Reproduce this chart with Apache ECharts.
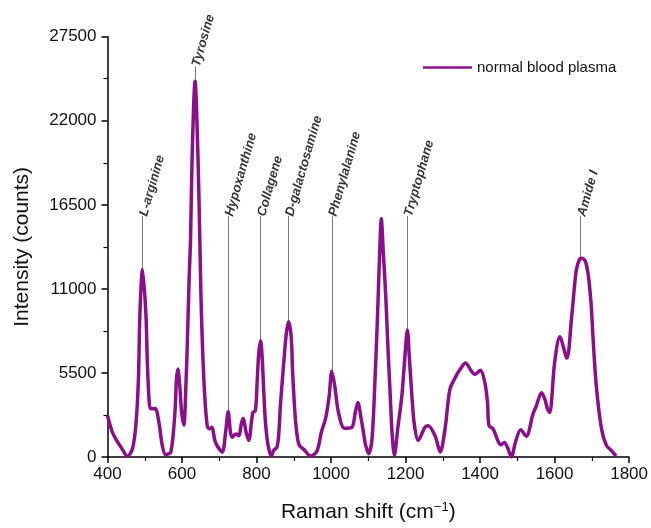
<!DOCTYPE html>
<html>
<head>
<meta charset="utf-8">
<script src="https://cdn.jsdelivr.net/npm/echarts@6/dist/echarts.min.js"></script>
<style>
html,body{margin:0;padding:0;background:#fff;}
#chart{width:651px;height:528px;}
</style>
</head>
<body>
<div id="chart"></div>
<script>
// Raman shift (cm^-1)
const ramanShift = [400,413,422,436,454,467,476,483,487,494,503,507,512,516,528,538,547,556,570,581,585,589,594,599,605,611,614,619,623,627,635,643,648,651,655,661,668,674,680,688,695,708,717,724,730,735,744,752,760,764,772,779,790,797,802,806,811,815,820,824,831,840,846,855,860,864,873,880,886,893,897,903,909,915,927,945,962,974,986,995,1002,1010,1020,1036,1056,1065,1072,1081,1087,1093,1101,1110,1118,1125,1130,1135,1140,1147,1153,1159,1164,1170,1179,1190,1197,1205,1210,1217,1224,1234,1252,1261,1279,1293,1306,1319,1333,1346,1361,1377,1386,1401,1413,1420,1424,1435,1449,1456,1465,1474,1484,1495,1509,1524,1542,1551,1565,1574,1581,1587,1600,1614,1633,1645,1658,1667,1673,1682,1690,1698,1703,1712,1726,1739,1752,1765];
// Intensity (counts)
const intensity = [2700,1620,1190,650,50,540,2050,5070,9380,12290,9380,6150,3560,3150,3170,2265,760,155,325,2910,5070,5760,4640,2910,2100,5070,7230,11560,14340,19520,24590,19500,14000,10400,7200,3990,2000,1850,1950,1100,700,325,1620,2960,1620,1290,1510,1400,2265,2520,1620,1080,2910,3020,5070,6790,7600,6580,3990,2265,760,65,430,650,1620,3345,6150,8090,8850,7870,5500,2910,1400,760,500,65,370,1620,2590,3990,5610,4640,2910,1880,1940,2910,3560,2480,1620,760,220,1190,5070,9380,13000,15590,13500,10460,7000,3990,1500,110,1840,3990,6150,8310,6580,3990,2050,1080,1940,2050,1400,325,1840,4425,5175,5720,6150,5610,5400,5675,4850,3560,2050,1840,1000,800,950,600,0,970,1790,1360,2810,3345,4205,3780,3130,2910,6150,7870,6470,8950,12190,12940,13000,12840,11970,10030,7870,4640,1840,760,430,65];

// Peak annotations
const annLabels = ['L-arginine','Tyrosine','Hypoxanthine','Collagene','D-galactosamine','Phenylalanine','Tryptophane','Amide I'];
const annShift  = [494, 635, 724, 811, 886, 1002, 1205, 1670];
const annPeak   = [12290, 24590, 2960, 7600, 8850, 5610, 8310, 13000];
const annTop    = [15770, 25560, 15770, 15770, 15770, 15770, 15770, 15770];

const xTicks = {min: 400, max: 1800, interval: 200};
const yTicks = {min: 0, max: 27500, interval: 5500};

const FONT = 'Liberation Sans, Arial, sans-serif';
const chart = echarts.init(document.getElementById('chart'), null, {renderer: 'canvas'});

const lineData = ramanShift.map((x, i) => [x, intensity[i]]);
const markLines = annShift.map((x, i) => [{coord: [x, annPeak[i]]}, {coord: [x, annTop[i]]}]);
const labelData = annShift.map((x, i) => [x, annTop[i], annLabels[i]]);

chart.setOption({
  animation: false,
  backgroundColor: '#fff',
  grid: {left: 107.5, right: 19.5, top: 36.7, bottom: 66.3, containLabel: false},
  legend: {
    data: ['normal blood plasma'],
    left: 418, top: 55,
    itemWidth: 49, itemHeight: 14, itemGap: 5,
    textStyle: {fontFamily: FONT, fontSize: 15, color: '#111'},
    icon: 'path://M0,6 L49,6 L49,8.5 L0,8.5 Z'
  },
  xAxis: {
    type: 'value', min: xTicks.min, max: xTicks.max, interval: xTicks.interval,
    name: 'Raman shift (cm{sup|\u22121})',
    nameLocation: 'middle', nameGap: 44,
    nameTextStyle: {fontFamily: FONT, fontSize: 21, color: '#111',
      rich: {sup: {fontFamily: FONT, fontSize: 13, color: '#111', verticalAlign: 'top', padding: [0,0,10,0]}}},
    axisLine: {show: true, lineStyle: {color: '#000', width: 1.5}},
    axisTick: {show: true, length: 6, lineStyle: {color: '#000', width: 1.5}},
    minorTick: {show: true, splitNumber: 2, length: 4, lineStyle: {color: '#000', width: 1.2}},
    axisLabel: {fontFamily: FONT, fontSize: 17, color: '#111', margin: 9, formatter: v => String(v)},
    splitLine: {show: false}
  },
  yAxis: {
    type: 'value', min: yTicks.min, max: yTicks.max, interval: yTicks.interval,
    name: 'Intensity (counts)',
    nameLocation: 'middle', nameGap: 75, nameRotate: 90,
    nameTextStyle: {fontFamily: FONT, fontSize: 21, color: '#111'},
    axisLine: {show: true, lineStyle: {color: '#000', width: 1.5}},
    axisTick: {show: true, length: 6, lineStyle: {color: '#000', width: 1.5}},
    minorTick: {show: true, splitNumber: 2, length: 4, lineStyle: {color: '#000', width: 1.2}},
    axisLabel: {fontFamily: FONT, fontSize: 17, color: '#111', margin: 11, formatter: v => String(v)},
    splitLine: {show: false}
  },
  series: [
    {
      name: 'normal blood plasma',
      type: 'line',
      data: lineData,
      smooth: 0.3,
      symbol: 'none',
      z: 3,
      lineStyle: {color: '#8b0f8b', width: 3.5},
      itemStyle: {color: '#8b0f8b'},
      markLine: {
        silent: true, symbol: ['none','none'], z: 1,
        lineStyle: {color: '#7a7a7a', width: 1, type: 'solid'},
        label: {show: false},
        data: markLines
      }
    },
    {
      name: 'labels',
      type: 'scatter',
      data: labelData,
      symbolSize: 0,
      silent: true,
      label: {
        show: true,
        formatter: p => p.data[2],
        position: 'right',
        distance: 1,
        rotate: 74,
        align: 'left',
        verticalAlign: 'middle',
        fontFamily: FONT, fontSize: 13, fontWeight: 'bold', fontStyle: 'italic', color: '#000'
      }
    }
  ]
});
</script>
</body>
</html>
